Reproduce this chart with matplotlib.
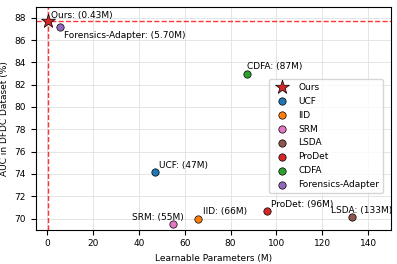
import matplotlib.pyplot as plt

# Methods, learnable params (M) and AUC on DFDC
methods = ["Ours", "UCF", "IID", "SRM", "LSDA", "ProDet", "CDFA", "Forensics-Adapter"]
params = [0.43, 47, 66, 55, 133, 96, 87, 5.70]
auc = [87.7, 74.2, 70.0, 69.5, 70.1, 70.7, 83.0, 87.2]
labels = ["Ours: (0.43M)", "UCF: (47M)", "IID: (66M)", "SRM: (55M)",
          "LSDA: (133M)", "ProDet: (96M)", "CDFA: (87M)", "Forensics-Adapter: (5.70M)"]
colors = ["tab:red", "tab:blue", "tab:orange", "tab:pink",
          "tab:brown", "tab:red", "tab:green", "tab:purple"]
# text offsets in points
offsets = [(2, 2), (3, 3), (3, 3), (-30, 3), (-15, 3), (3, 3), (0, 3), (3, -8)]

plt.rcParams["font.size"] = 6.5
fig, ax = plt.subplots(figsize=(3.97, 2.64), dpi=100)

for i, m in enumerate(methods):
    if m == "Ours":
        ax.scatter(params[i], auc[i], marker="*", s=110, color=colors[i],
                   edgecolors="black", linewidths=0.5, label=m, zorder=5)
    else:
        ax.scatter(params[i], auc[i], marker="o", s=28, color=colors[i],
                   edgecolors="black", linewidths=0.5, label=m, zorder=5)
    ax.annotate(labels[i], (params[i], auc[i]), xytext=offsets[i],
                textcoords="offset points", fontsize=6.5)

ax.axvline(params[0], color="red", linestyle="--", linewidth=1, alpha=0.8)
ax.axhline(auc[0], color="red", linestyle="--", linewidth=1, alpha=0.8)

ax.set_xlim(-5, 150)
ax.set_ylim(69, 89)
ax.set_xticks([0, 20, 40, 60, 80, 100, 120, 140])
ax.set_yticks([70, 72, 74, 76, 78, 80, 82, 84, 86, 88])
ax.set_xlabel("Learnable Parameters (M)")
ax.set_ylabel("AUC in DFDC Dataset (%)")
ax.grid(True, color="#e0e0e0", linewidth=0.6)
ax.set_axisbelow(True)
ax.legend(loc="center right", bbox_to_anchor=(0.99, 0.42), fontsize=6.5,
          labelspacing=0.55, handletextpad=0.8)

plt.subplots_adjust(left=0.09, right=0.985, top=0.975, bottom=0.13)
plt.savefig("out.png", dpi=100)
